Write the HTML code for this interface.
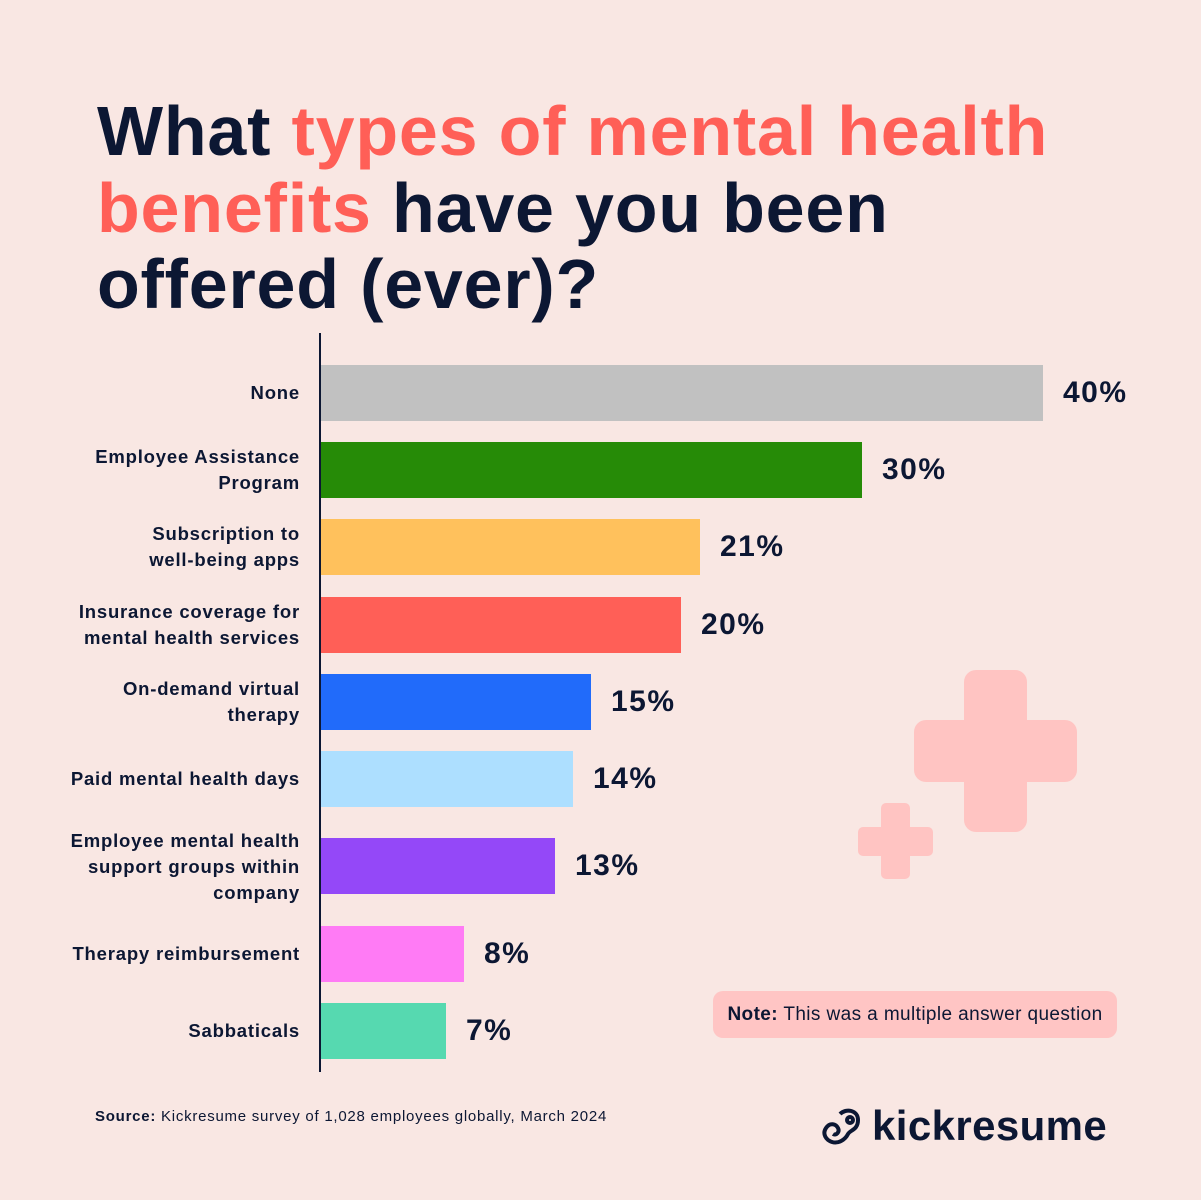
<!DOCTYPE html><html><head><meta charset="utf-8"><style>
body{margin:0;width:1201px;height:1200px;background:#f9e7e3;position:relative;overflow:hidden;font-family:"Liberation Sans",sans-serif;color:#0c1733}
.t{position:absolute;left:97px;font-size:70px;font-weight:bold;letter-spacing:0.8px;white-space:nowrap;line-height:1}
.r{color:#ff5f57}
.bar{position:absolute;left:321px;height:56px}
.lab{position:absolute;right:901px;text-align:right;font-size:18.5px;font-weight:bold;line-height:26px;white-space:nowrap;letter-spacing:0.8px}
.v{position:absolute;font-size:30px;font-weight:bold;line-height:56px;letter-spacing:1.5px}
.c{position:absolute;background:#ffc4c2;border-radius:12px}
</style></head><body>
<div class="t" style="top:96px">What <span class="r">types of mental health</span></div>
<div class="t" style="top:173px"><span class="r">benefits</span> have you been</div>
<div class="t" style="top:249px">offered (ever)?</div>
<div style="position:absolute;left:319px;top:333px;width:2px;height:739px;background:#0c1733"></div>
<div class="c" style="left:964px;top:670px;width:63px;height:162px"></div>
<div class="c" style="left:914px;top:720px;width:163px;height:62px"></div>
<div class="c" style="left:881px;top:803px;width:29px;height:76px;border-radius:5px"></div>
<div class="c" style="left:858px;top:827px;width:75px;height:29px;border-radius:5px"></div>

<div class="bar" style="top:365px;width:722px;background:#c1c1c1"></div><div class="v" style="top:365px;left:1063px">40%</div><div class="lab" style="top:380px">None</div>
<div class="bar" style="top:442px;width:541px;background:#268b07"></div><div class="v" style="top:442px;left:882px">30%</div><div class="lab" style="top:444px">Employee Assistance<br>Program</div>
<div class="bar" style="top:519px;width:379px;background:#ffc15c"></div><div class="v" style="top:519px;left:720px">21%</div><div class="lab" style="top:521px">Subscription to<br>well-being apps</div>
<div class="bar" style="top:597px;width:360px;background:#ff5f57"></div><div class="v" style="top:597px;left:701px">20%</div><div class="lab" style="top:599px">Insurance coverage for<br>mental health services</div>
<div class="bar" style="top:674px;width:270px;background:#216bfa"></div><div class="v" style="top:674px;left:611px">15%</div><div class="lab" style="top:676px">On-demand virtual<br>therapy</div>
<div class="bar" style="top:751px;width:252px;background:#addfff"></div><div class="v" style="top:751px;left:593px">14%</div><div class="lab" style="top:766px">Paid mental health days</div>
<div class="bar" style="top:838px;width:234px;background:#9448f8"></div><div class="v" style="top:838px;left:575px">13%</div><div class="lab" style="top:828px">Employee mental health<br>support groups within<br>company</div>
<div class="bar" style="top:926px;width:143px;background:#ff7bf5"></div><div class="v" style="top:926px;left:484px">8%</div><div class="lab" style="top:941px">Therapy reimbursement</div>
<div class="bar" style="top:1003px;width:125px;background:#56d9b0"></div><div class="v" style="top:1003px;left:466px">7%</div><div class="lab" style="top:1018px">Sabbaticals</div>

<div style="position:absolute;left:713px;top:991px;width:404px;height:47px;background:#ffc5c4;border-radius:10px;font-size:19px;letter-spacing:0.4px;line-height:47px;text-align:center;white-space:nowrap"><b>Note:</b> This was a multiple answer question</div>
<div style="position:absolute;left:95px;top:1108px;font-size:15px;letter-spacing:0.75px;white-space:nowrap"><b>Source:</b> Kickresume survey of 1,028 employees globally, March 2024</div>
<svg style="position:absolute;left:820px;top:1106px" width="48" height="46" viewBox="0 0 48 46"><g fill="none" stroke="#0c1733" stroke-width="4"><path d="M20 8c6-6 18-4 18 6s-8 10-10 14c-3 6-10 10-16 8S2 28 6 22s10-4 12 0-2 8-5 6"/><circle cx="30" cy="14" r="3"/></g></svg>
<div style="position:absolute;left:872px;top:1100px;font-size:42px;font-weight:bold;letter-spacing:0.4px;line-height:52px">kickresume</div>
</body></html>
